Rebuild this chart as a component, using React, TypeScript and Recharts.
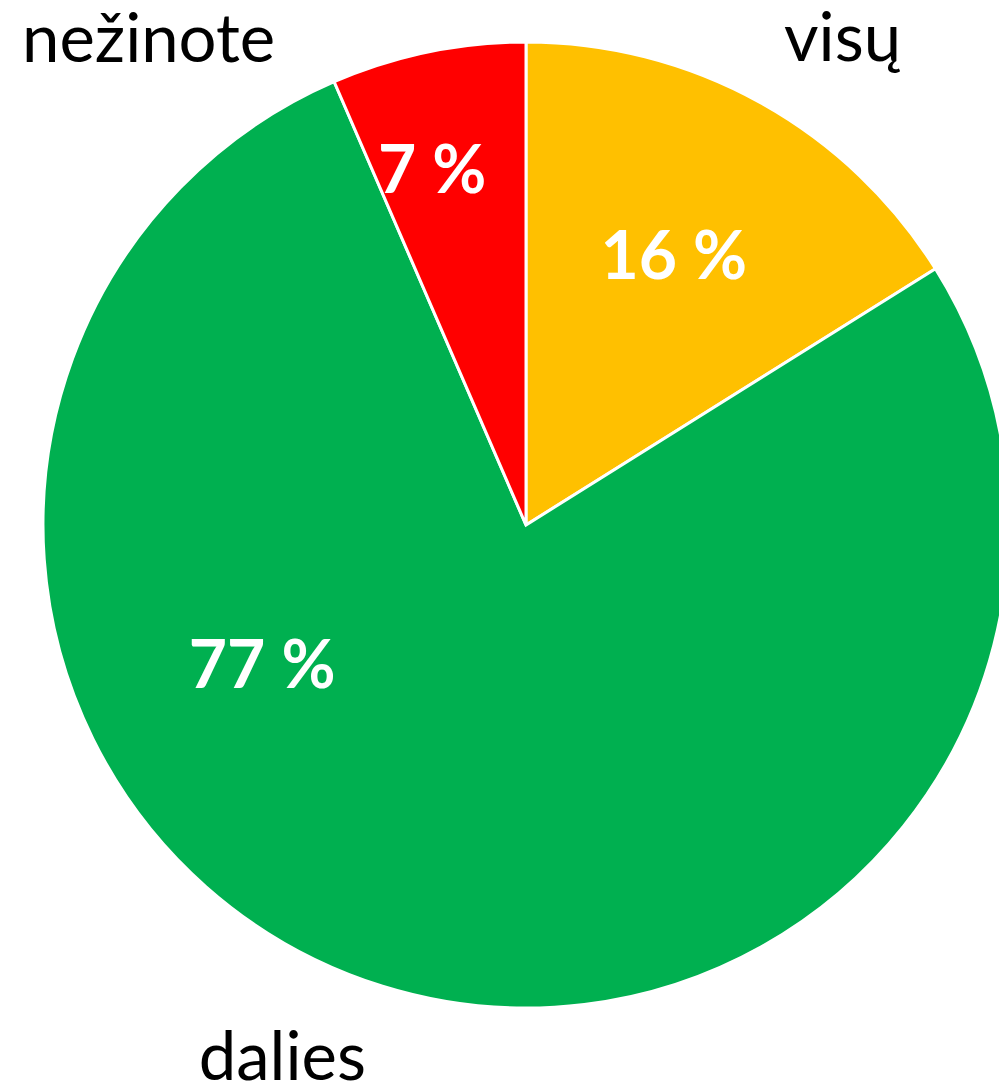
import { Cell, Pie, PieChart } from 'recharts';

const categories = ['visų', 'dalies', 'nežinote'];
const shares = [16.1, 77.4, 6.5];
const colors = ['#FFC000', '#00B050', '#FF0000'];

// where Excel put the label baselines: radius as share of R, angle clockwise from 12 o'clock
const pctSpots = [
  { r: 0.594, deg: 31 },
  { r: 0.642, deg: 238.3 },
  { r: 0.714, deg: -15.8 },
];
const nameSpots = [
  { r: 1.163, deg: 34.3 },
  { r: 1.255, deg: 203.7 },
  { r: 1.236, deg: -39.2 },
];

const data = categories.map((name, i) => ({ name, value: shares[i] }));

const FONT = 'Lato, "Open Sans", sans-serif';

function renderLabel(props: any) {
  const { cx, cy, outerRadius, index, value, name } = props;
  const p = pctSpots[index];
  const n = nameSpots[index];
  const rad = Math.PI / 180;
  const px = cx + outerRadius * p.r * Math.sin(p.deg * rad);
  const py = cy - outerRadius * p.r * Math.cos(p.deg * rad);
  const nx = cx + outerRadius * n.r * Math.sin(n.deg * rad);
  const ny = cy - outerRadius * n.r * Math.cos(n.deg * rad);
  return (
    <g>
      <text x={px} y={py} fill="#fff" fontFamily={FONT} fontWeight={700} fontSize={66} textAnchor="middle">
        {`${Math.round(value)} %`}
      </text>
      <text x={nx} y={ny} fill="#000" fontFamily={FONT} fontSize={67} textAnchor="middle">
        {name}
      </text>
    </g>
  );
}

export default function App() {
  return (
    <div style={{ position: 'absolute', left: 0, top: 0, width: 999, height: 1089, background: '#fff' }}>
      <PieChart width={999} height={1089} margin={{ top: 0, right: 0, bottom: 0, left: 0 }}>
        <Pie
          data={data}
          dataKey="value"
          nameKey="name"
          cx={526}
          cy={525}
          outerRadius={483}
          startAngle={90}
          endAngle={-270}
          stroke="#fff"
          strokeWidth={3}
          label={renderLabel}
          labelLine={false}
          isAnimationActive={false}
        >
          {data.map((d, i) => (
            <Cell key={d.name} fill={colors[i]} />
          ))}
        </Pie>
      </PieChart>
    </div>
  );
}
